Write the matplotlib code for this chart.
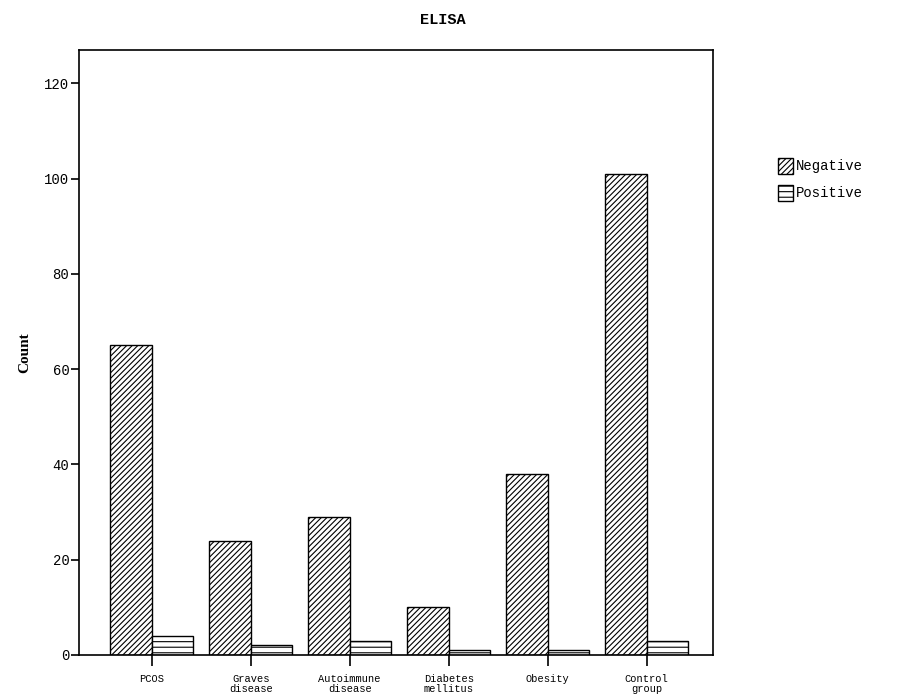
import matplotlib as mpl

mpl.use("Agg")
import matplotlib.pyplot as plt
import numpy as np
from matplotlib.patches import Patch

CATEGORIES = ["PCOS", "Graves\ndisease", "Autoimmune\ndisease", "Diabetes\nmellitus",
              "Obesity", "Control\ngroup"]
NEGATIVE = [65, 24, 29, 10, 38, 101]
POSITIVE = [4, 2, 3, 1, 1, 3]
SERIES = ["Negative", "Positive"]

MONO = ["Liberation Mono", "DejaVu Sans Mono"]
plt.rcParams["hatch.linewidth"] = 0.8

fig = plt.figure(figsize=(8.98, 6.97), dpi=100)
ax = fig.add_axes([0.088, 0.0603, 0.706, 0.868])

x = np.arange(len(CATEGORIES))
w = 0.42
ax.bar(x - w, NEGATIVE, w, align="edge", facecolor="white", edgecolor="black",
       hatch="//////", linewidth=1.0)
ax.bar(x, POSITIVE, w, align="edge", facecolor="white", edgecolor="black",
       hatch="---", linewidth=1.0)

ax.set_xlim(-0.734, 5.67)
ax.set_ylim(0, 127)
ax.set_yticks([0, 20, 40, 60, 80, 100, 120])
ax.set_xticks(x)
ax.set_xticklabels(CATEGORIES, family=MONO, fontsize=7.5, linespacing=0.9)
for lab in ax.get_yticklabels():
    lab.set_family(MONO)
    lab.set_fontsize(10)
ax.tick_params(axis="x", direction="out", length=8, width=1.2, pad=6)
ax.tick_params(axis="y", direction="out", length=6, width=1.2, pad=1)
for sp in ax.spines.values():
    sp.set_linewidth(1.2)

ax.set_ylabel("Count", family=["Liberation Serif", "DejaVu Serif"], fontweight="bold",
              fontsize=11, labelpad=9)
fig.text(0.493, 0.971, "ELISA", family=MONO, fontweight="bold", fontsize=11,
         ha="center", va="center")

handles = [Patch(facecolor="white", edgecolor="black", hatch="//////", label=SERIES[0]),
           Patch(facecolor="white", edgecolor="black", hatch="---", label=SERIES[1])]
fig.legend(handles=handles, loc="upper left", bbox_to_anchor=(0.866, 0.774),
           frameon=False, prop={"family": MONO, "size": 10},
           handlelength=1.1, handleheight=1.4, handletextpad=0.2, labelspacing=0.8,
           borderaxespad=0, borderpad=0)

fig.savefig("out.png", dpi=100)
